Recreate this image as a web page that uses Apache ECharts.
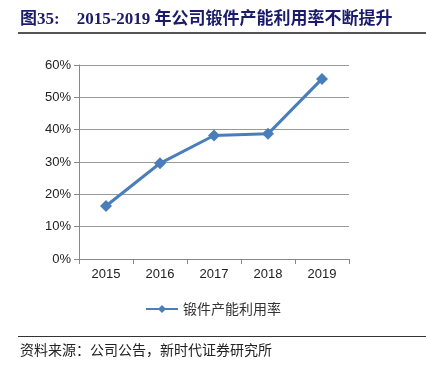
<!DOCTYPE html>
<html>
<head>
<meta charset="utf-8">
<script src="https://cdn.jsdelivr.net/npm/echarts@6/dist/echarts.min.js"></script>
<style>
  html, body { margin: 0; padding: 0; background: #fff; }
  #main { width: 426px; height: 368px; }
</style>
</head>
<body>
<div id="main"></div>
<script>
var years = ['2015', '2016', '2017', '2018', '2019'];
var utilRate = [16.4, 29.6, 38.2, 38.7, 55.7];
var seriesName = '锻件产能利用率';

var myChart = echarts.init(document.getElementById('main'));
var option = {
  animation: false,
  backgroundColor: '#fff',
  graphic: [
    {
      type: 'text', left: 20, top: 11,
      style: {
        text: '图35:    2015-2019 年公司锻件产能利用率不断提升',
        font: 'bold 17px "Liberation Serif", "Noto Sans CJK SC"',
        fill: '#1b1b6b'
      }
    },
    { type: 'rect', shape: { x: 18, y: 32, width: 408, height: 2 }, style: { fill: '#555' } },
    { type: 'rect', shape: { x: 18, y: 336, width: 408, height: 1 }, style: { fill: '#333' } },
    {
      type: 'text', left: 20, top: 343,
      style: {
        text: '资料来源：公司公告，新时代证券研究所',
        font: '14px "Noto Sans CJK SC"',
        fill: '#222'
      }
    }
  ],
  legend: {
    top: 297, left: 'center',
    itemWidth: 32, itemHeight: 10,
    textStyle: { fontFamily: 'Noto Sans CJK SC', fontSize: 14, color: '#333' },
    data: [seriesName]
  },
  grid: { left: 79, right: 77, top: 65, bottom: 109 },
  xAxis: {
    type: 'category',
    data: years,
    axisLine: { lineStyle: { color: '#888' } },
    axisTick: { show: true, length: 5, lineStyle: { color: '#888' } },
    axisLabel: { color: '#222', fontFamily: 'Liberation Sans', fontSize: 13, margin: 9 }
  },
  yAxis: {
    type: 'value',
    min: 0, max: 60, interval: 10,
    axisLine: { show: true, lineStyle: { color: '#888' } },
    axisTick: { show: true, length: 5, lineStyle: { color: '#888' } },
    axisLabel: { color: '#222', fontFamily: 'Liberation Sans', fontSize: 13, margin: 8, formatter: '{value}%' },
    splitLine: { lineStyle: { color: '#999' } }
  },
  series: [
    {
      name: seriesName,
      type: 'line',
      data: utilRate,
      symbol: 'diamond',
      symbolSize: 12,
      color: '#4a7ebb',
      lineStyle: { width: 3, color: '#4a7ebb' },
      itemStyle: { color: '#4a7ebb' }
    }
  ]
};
myChart.setOption(option);
</script>
</body>
</html>
